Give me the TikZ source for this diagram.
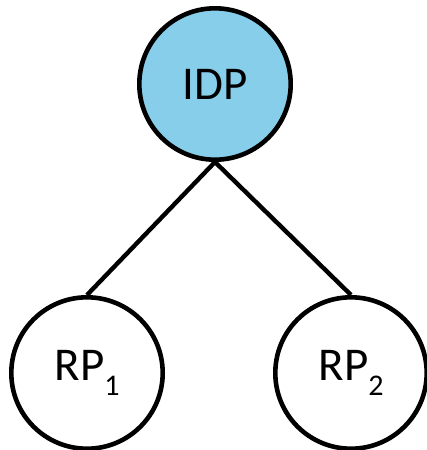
\documentclass[tikz,border=0pt]{standalone}
\usepackage{fontspec}
\setmainfont{Carlito}
\usetikzlibrary{positioning}
\definecolor{idpblue}{RGB}{135,206,235}
\newcommand{\rpsub}[1]{RP\raisebox{-0.32em}{\fontsize{30}{30}\selectfont #1}}
\tikzset{
	party/.style = {draw, circle, line width=4.6pt, minimum size=151.4pt, inner sep=0pt, fill=white, font=\fontsize{47}{47}\selectfont},
	link/.style  = {line width=4.4pt}
}
\begin{document}
\begin{tikzpicture}[x=1pt, y=-1pt]
    \useasboundingbox (0,0) rectangle (427,450);
    % the identity provider on top
    \node [party, fill=idpblue] (idp) at (215,84) {IDP};
    % the two relying parties below it
    \node [party] (rp1) at (87,373) {\rpsub{1}};
    \node [party] (rp2) at (351,373) {\rpsub{2}};

    % edges of the tree
    \draw [link] (idp.south) -- (rp1.north);
    \draw [link] (idp.south) -- (rp2.north);
\end{tikzpicture}
\end{document}
